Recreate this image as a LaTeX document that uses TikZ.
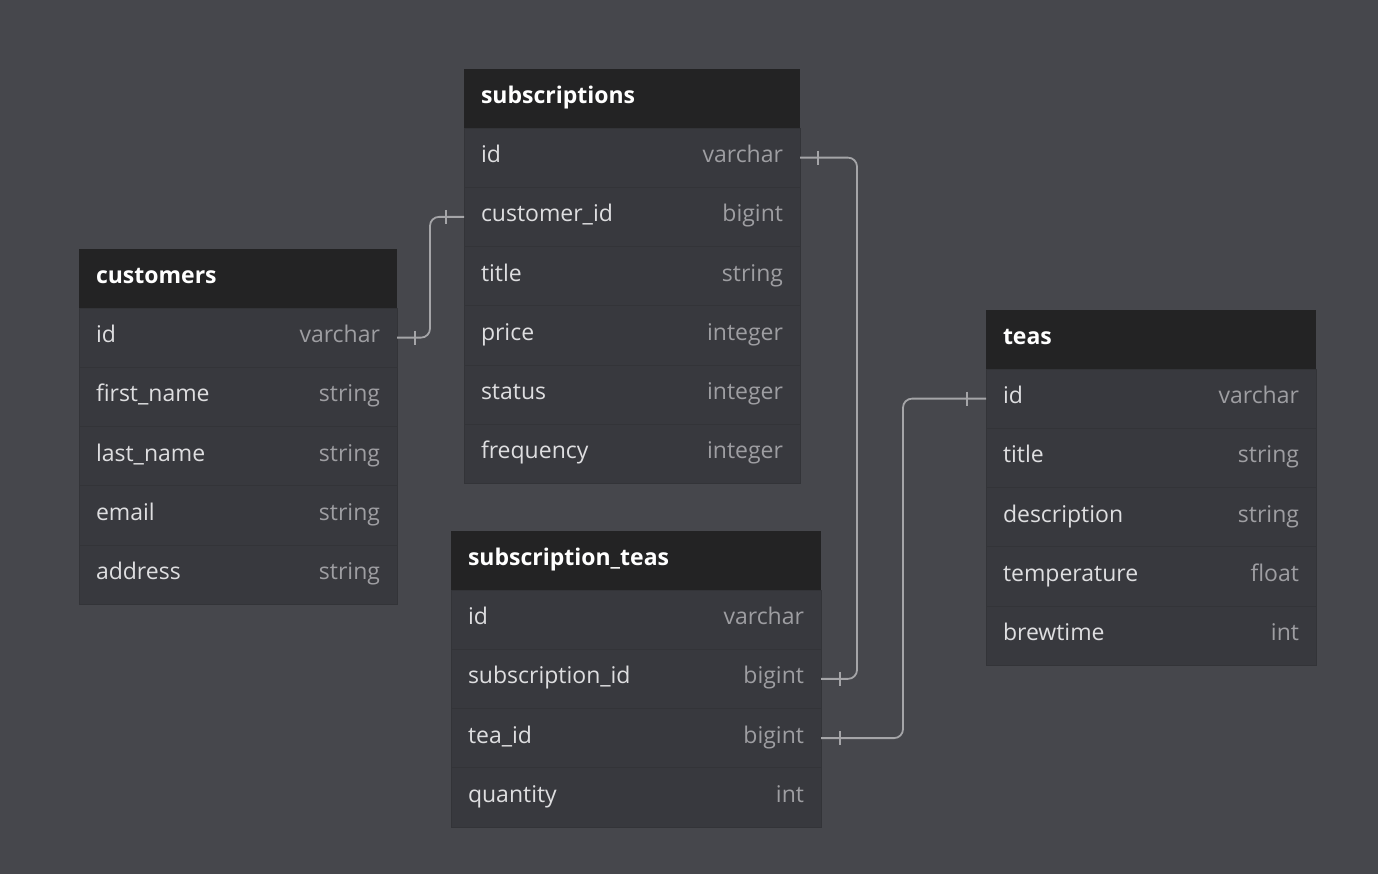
\documentclass[tikz,border=0pt]{standalone}
\usepackage{fontspec}
\setmainfont{Open Sans}
\usepackage{xcolor}
\definecolor{bg_dark}{RGB}{70,71,76}
\definecolor{head_black}{RGB}{35,35,36}
\definecolor{row_grey}{RGB}{56,57,62}
\definecolor{row_line}{RGB}{51,52,56}
\definecolor{name_grey}{RGB}{222,222,224}
\definecolor{type_grey}{RGB}{158,158,162}
\definecolor{link_grey}{RGB}{165,165,168}
\usetikzlibrary{positioning}

\begin{document}
\begin{tikzpicture}
[
    x = 1pt, y = -1pt,
    tblhead/.style = {fill = head_black, text = white, anchor = north west, font = \fontsize{23}{28}\selectfont\bfseries, text width = #1, inner xsep = 17pt, inner ysep = 0pt, outer sep = 0pt, minimum height = 59pt, text height = 16pt, text depth = 6pt, align = left},
    tblrow/.style = {fill = row_grey, draw = row_line, line width = 0.8pt, outer sep = 0pt, text = name_grey, font = \fontsize{23}{28}\selectfont, text width = #1, inner xsep = 17pt, inner ysep = 0pt, minimum height = 59.25pt, text height = 16pt, text depth = 6pt, align = left},
    link/.style = {draw = link_grey, line width = 1.8pt, rounded corners = 9pt},
    tick/.style = {draw = link_grey, line width = 1.8pt}
]
\useasboundingbox[fill = bg_dark] (0,0) rectangle (1378,874);

% customers
\node[tblhead = 284pt] (cust-head) at (79,249) {customers};
\node[tblrow = 284pt, below = 0pt of cust-head] (cust-id) {id\hfill\textcolor{type_grey}{varchar}};
\node[tblrow = 284pt, below = 0pt of cust-id] (cust-first) {first\_name\hfill\textcolor{type_grey}{string}};
\node[tblrow = 284pt, below = 0pt of cust-first] (cust-last) {last\_name\hfill\textcolor{type_grey}{string}};
\node[tblrow = 284pt, below = 0pt of cust-last] (cust-email) {email\hfill\textcolor{type_grey}{string}};
\node[tblrow = 284pt, below = 0pt of cust-email] (cust-addr) {address\hfill\textcolor{type_grey}{string}};

% subscriptions
\node[tblhead = 302pt] (sub-head) at (464,69) {subscriptions};
\node[tblrow = 302pt, below = 0pt of sub-head] (sub-id) {id\hfill\textcolor{type_grey}{varchar}};
\node[tblrow = 302pt, below = 0pt of sub-id] (sub-cid) {customer\_id\hfill\textcolor{type_grey}{bigint}};
\node[tblrow = 302pt, below = 0pt of sub-cid] (sub-title) {title\hfill\textcolor{type_grey}{string}};
\node[tblrow = 302pt, below = 0pt of sub-title] (sub-price) {price\hfill\textcolor{type_grey}{integer}};
\node[tblrow = 302pt, below = 0pt of sub-price] (sub-status) {status\hfill\textcolor{type_grey}{integer}};
\node[tblrow = 302pt, below = 0pt of sub-status] (sub-freq) {frequency\hfill\textcolor{type_grey}{integer}};

% subscription_teas
\node[tblhead = 336pt] (st-head) at (451,531) {subscription\_teas};
\node[tblrow = 336pt, below = 0pt of st-head] (st-id) {id\hfill\textcolor{type_grey}{varchar}};
\node[tblrow = 336pt, below = 0pt of st-id] (st-sid) {subscription\_id\hfill\textcolor{type_grey}{bigint}};
\node[tblrow = 336pt, below = 0pt of st-sid] (st-tid) {tea\_id\hfill\textcolor{type_grey}{bigint}};
\node[tblrow = 336pt, below = 0pt of st-tid] (st-qty) {quantity\hfill\textcolor{type_grey}{int}};

% teas
\node[tblhead = 296pt] (teas-head) at (986,310) {teas};
\node[tblrow = 296pt, below = 0pt of teas-head] (teas-id) {id\hfill\textcolor{type_grey}{varchar}};
\node[tblrow = 296pt, below = 0pt of teas-id] (teas-title) {title\hfill\textcolor{type_grey}{string}};
\node[tblrow = 296pt, below = 0pt of teas-title] (teas-desc) {description\hfill\textcolor{type_grey}{string}};
\node[tblrow = 296pt, below = 0pt of teas-desc] (teas-temp) {temperature\hfill\textcolor{type_grey}{float}};
\node[tblrow = 296pt, below = 0pt of teas-temp] (teas-brew) {brewtime\hfill\textcolor{type_grey}{int}};

% relations
\draw[link] (cust-id.east) -- ++(33,0) |- (sub-cid.west);
\draw[link] (sub-id.east) -- ++(57,0) |- (st-sid.east);
\draw[link] (teas-id.west) -- ++(-83,0) |- (st-tid.east);

% one-to-one ticks
\draw[tick] ([xshift = 18pt]cust-id.east) ++(0,-7) -- ++(0,14);
\draw[tick] ([xshift = -18pt]sub-cid.west) ++(0,-7) -- ++(0,14);
\draw[tick] ([xshift = 18pt]sub-id.east) ++(0,-7) -- ++(0,14);
\draw[tick] ([xshift = 19pt]st-sid.east) ++(0,-7) -- ++(0,14);
\draw[tick] ([xshift = -19pt]teas-id.west) ++(0,-7) -- ++(0,14);
\draw[tick] ([xshift = 19pt]st-tid.east) ++(0,-7) -- ++(0,14);
\end{tikzpicture}
\end{document}
